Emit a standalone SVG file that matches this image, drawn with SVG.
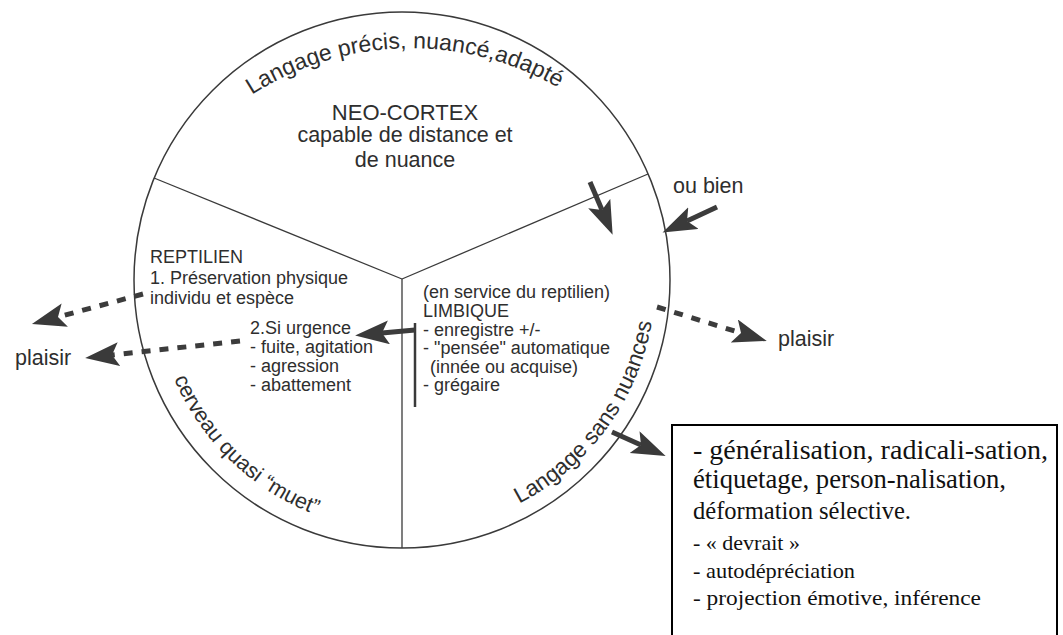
<svg xmlns="http://www.w3.org/2000/svg" width="1063" height="635" viewBox="0 0 1063 635">
<style>
.s{font-family:"Liberation Sans",Arial,sans-serif;fill:#2e2e2e}
.t{font-family:"Liberation Serif","Times New Roman",serif;fill:#111}
.ln{stroke:#3a3a3a;fill:none}
.dash{stroke:#3c3c3c;stroke-width:5;stroke-dasharray:9 9;fill:none}
.sol{stroke:#3c3c3c;stroke-width:5;fill:none}
</style>
<defs>
<marker id="ah" markerUnits="userSpaceOnUse" markerWidth="36" markerHeight="28" refX="7" refY="12" orient="auto">
<path d="M0,0 L34,12 L0,24 L7,12 z" fill="#3a3a3a"/>
</marker>
<path id="arcTop" d="M 253 94 A 295 295 0 0 1 557 87"/>
<path id="arcLeft" d="M 166 357 A 250 250 0 0 0 338 522"/>
<path id="arcRight" d="M 497 514 A 254 254 0 0 0 655 298"/>
</defs>
<rect width="1063" height="635" fill="#fff"/>

<g id="brain">
<circle cx="402" cy="280" r="268" class="ln" stroke-width="1.5"/>
<line x1="402" y1="279" x2="154" y2="178" class="ln" stroke-width="1.3"/>
<line x1="402" y1="279" x2="648" y2="174" class="ln" stroke-width="1.3"/>
<line x1="402" y1="279" x2="402" y2="548" class="ln" stroke-width="1.3"/>
</g>

<g id="neocortex">
<text class="s" font-size="23"><textPath href="#arcTop" startOffset="50%" text-anchor="middle">Langage précis, nuancé,adapté</textPath></text>
<text class="s" font-size="22" x="405" y="120" text-anchor="middle">NEO-CORTEX</text>
<text class="s" font-size="21.5" x="405" y="142" text-anchor="middle">capable de distance et</text>
<text class="s" font-size="21.5" x="405" y="167" text-anchor="middle">de nuance</text>
</g>

<g id="reptilien">
<text class="s" font-size="18" x="150" y="263">REPTILIEN</text>
<text class="s" font-size="18" x="150" y="284">1. Préservation physique</text>
<text class="s" font-size="18" x="150" y="304">individu et espèce</text>
<text class="s" font-size="18" x="250" y="334">2.Si urgence</text>
<text class="s" font-size="18" x="250" y="353">- fuite, agitation</text>
<text class="s" font-size="18" x="250" y="372">- agression</text>
<text class="s" font-size="18" x="250" y="391">- abattement</text>
<text class="s" font-size="21.5"><textPath href="#arcLeft" startOffset="50%" text-anchor="middle">cerveau quasi “muet”</textPath></text>
</g>

<g id="limbique">
<text class="s" font-size="18" x="423" y="298">(en service du reptilien)</text>
<text class="s" font-size="18" x="423" y="317">LIMBIQUE</text>
<text class="s" font-size="18" x="423" y="336">- enregistre +/-</text>
<text class="s" font-size="18" x="423" y="354">- "pensée" automatique</text>
<text class="s" font-size="18" x="430" y="373">(innée ou acquise)</text>
<text class="s" font-size="18" x="423" y="391">- grégaire</text>
<line x1="415" y1="323" x2="415" y2="407" stroke="#3a3a3a" stroke-width="2.5"/>
<text class="s" font-size="22.5"><textPath href="#arcRight" startOffset="50%" text-anchor="middle">Langage sans nuances</textPath></text>
</g>

<g id="labels">
<text class="s" font-size="21.5" x="673" y="193">ou bien</text>
<text class="s" font-size="21.5" x="15" y="365">plaisir</text>
<text class="s" font-size="21.5" x="778" y="346">plaisir</text>
</g>

<g id="box">
<rect x="672" y="425" width="385" height="230" fill="none" stroke="#000" stroke-width="2"/>
<text class="t" font-size="26.5" x="693" y="459" textLength="355" lengthAdjust="spacingAndGlyphs">- généralisation, radicali-sation,</text>
<text class="t" font-size="26.5" x="693" y="488" textLength="313" lengthAdjust="spacingAndGlyphs">étiquetage, person-nalisation,</text>
<text class="t" font-size="25" x="693" y="519" textLength="218" lengthAdjust="spacingAndGlyphs">déformation sélective.</text>
<text class="t" font-size="22" x="693" y="550">- « devrait »</text>
<text class="t" font-size="22" x="693" y="578" textLength="162" lengthAdjust="spacingAndGlyphs">- autodépréciation</text>
<text class="t" font-size="22" x="693" y="605" textLength="288" lengthAdjust="spacingAndGlyphs">- projection émotive, inférence</text>
</g>

<g id="connectors">
<path class="dash" d="M143,294 L58,317" marker-end="url(#ah)"/>
<path class="dash" d="M240,341 L112,355" marker-end="url(#ah)"/>
<path class="sol" stroke-width="4" d="M415,330 L382,333" marker-end="url(#ah)"/>
<path class="sol" d="M590,182 L602,210" marker-end="url(#ah)"/>
<path class="sol" d="M717,207 L687,221" marker-end="url(#ah)"/>
<path class="dash" d="M657,307 L741,333" marker-end="url(#ah)"/>
<path class="sol" d="M612,432 L641,445" marker-end="url(#ah)"/>
</g>
</svg>
